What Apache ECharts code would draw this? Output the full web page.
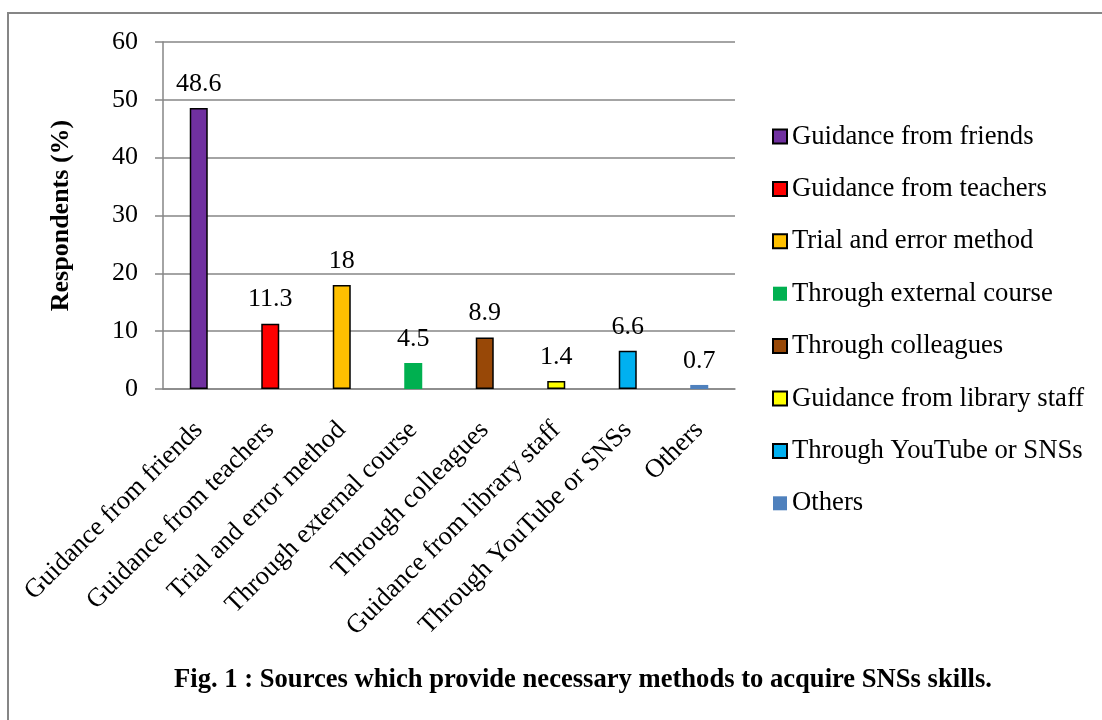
<!DOCTYPE html>
<html><head><meta charset="utf-8">
<script src="https://cdn.jsdelivr.net/npm/echarts@6/dist/echarts.min.js"></script>
<style>html,body{margin:0;padding:0;background:#fff}#c{width:1102px;height:720px}</style>
</head><body><div id="c"></div>
<script>
const categories = ["Guidance from friends","Guidance from teachers","Trial and error method","Through external course","Through colleagues","Guidance from library staff","Through YouTube or SNSs","Others"];
const values = [48.6, 11.3, 18, 4.5, 8.9, 1.4, 6.6, 0.7];
const colors = ["#7030A0","#FF0000","#FFC000","#00B050","#984807","#FFFF00","#00B0F0","#4F81BD"];
const bordered = [true,true,true,false,true,true,true,false];
const yTicks = [0,10,20,30,40,50,60];

const FONT = '"Liberation Serif","Times New Roman",serif';
const series = categories.map((name,i)=>({
  name: name,
  type: 'bar',
  stack: 'all',
  barWidth: 18,
  data: values.map((v,j)=> j===i ? v : '-'),
  itemStyle: {color: colors[i], borderColor: bordered[i] ? '#000' : colors[i], borderWidth: bordered[i] ? 1.5 : 0},
  label: {show: true, position: 'top', distance: 11, color: '#000', fontFamily: FONT, fontSize: 26},
  emphasis: {disabled: true}
}));

const chart = echarts.init(document.getElementById('c'), null, {renderer:'canvas'});
chart.setOption({
  animation: false,
  backgroundColor: '#fff',
  textStyle: {fontFamily: FONT},
  grid: {left: 163, right: 367, top: 42, bottom: 331, containLabel: false},
  legend: {
    orient: 'vertical', left: 767, top: 118,
    itemWidth: 14, itemHeight: 14, itemGap: 25.4,
    icon: 'rect',
    selectedMode: false,
    textStyle: {fontFamily: FONT, fontSize: 26.7, color: '#000', lineHeight: 27},
    data: categories
  },
  xAxis: {
    type: 'category', data: categories,
    axisLine: {show: true, lineStyle: {color: '#868686', width: 1.5}},
    axisTick: {show: false},
    axisLabel: {rotate: 45, interval: 0, margin: 37, color: '#000', fontFamily: FONT, fontSize: 26.5}
  },
  yAxis: {
    type: 'value', min: yTicks[0], max: yTicks[yTicks.length-1], interval: 10,
    name: 'Respondents (%)', nameLocation: 'middle', nameRotate: 90, nameGap: 89,
    nameTextStyle: {fontFamily: FONT, fontSize: 26, fontWeight: 'bold', color: '#000'},
    axisLine: {show: true, lineStyle: {color: '#868686', width: 1.5}},
    axisTick: {show: true, length: 8, lineStyle: {color: '#868686', width: 1.5}},
    splitLine: {show: true, lineStyle: {color: '#868686', width: 1.5}},
    axisLabel: {margin: 25, color: '#000', fontFamily: FONT, fontSize: 26}
  },
  graphic: [
    {type: 'rect', shape: {x: 8, y: 13, width: 1300, height: 900}, style: {fill: 'none', stroke: '#868686', lineWidth: 2}, silent: true},
    {type: 'text', x: 583, y: 680, style: {text: 'Fig. 1 : Sources which provide necessary methods to acquire SNSs skills.', fontFamily: FONT, fontSize: 26.6, fontWeight: 'bold', fill: '#000', textAlign: 'center', textVerticalAlign: 'middle'}, silent: true}
  ],
  series: series
});
</script></body></html>
